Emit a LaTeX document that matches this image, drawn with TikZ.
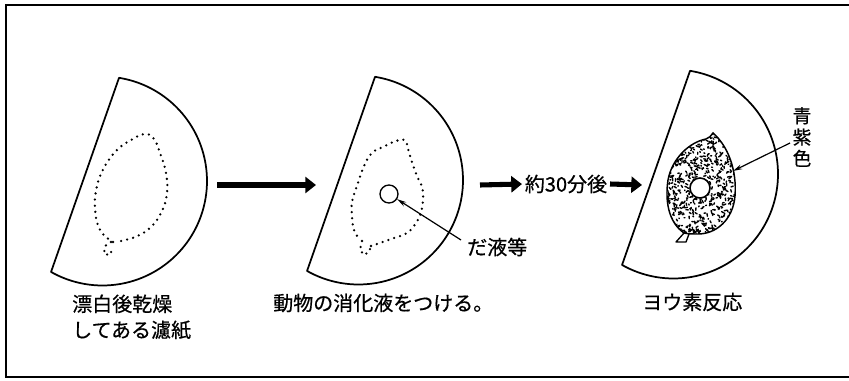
\documentclass[tikz,border=0pt]{standalone}
\usepackage{fontspec}
\setmainfont{Noto Sans CJK JP}[FakeBold=0.6]
\usetikzlibrary{arrows.meta}
\begin{document}
\begin{tikzpicture}[x=0.75pt,y=-0.75pt,
  frame/.style={line width=1.5pt},
  paper/.style={line width=1.3pt, line join=round},
  dotline/.style={line width=1.9pt, line cap=round, dash pattern=on 0pt off 4.6pt},
  bigarrow/.style={line width=3.8pt, -{Triangle[length=8pt,width=12pt]}},
  pointer/.style={line width=0.9pt, -{Stealth[length=7pt,width=3.6pt]}},
  label/.style={font=\fontsize{15pt}{19.5pt}\selectfont, inner sep=0pt},
  drop/.style={circle, draw, line width=1pt, fill=white, inner sep=0pt},
  speck/.style={line width=1.05pt, line cap=round}
]
\useasboundingbox (0,0) rectangle (849,381);

% open frame: top, left and bottom edges
\draw[frame] (849,5.5) -- (5.5,5.5) -- (5.5,377) -- (849,377);

% the folded filter paper: a circle cut by a chord
\newcommand\filterpaper{%
  \draw[paper] plot[domain=-80.9:119.5, samples=90]
    ({102.5+104.5*cos(\x)},{181+104.5*sin(\x)}) -- cycle;}

% ---- stage 1: bleached, dried filter paper
\filterpaper
\draw[dotline] plot[smooth, tension=0.7] coordinates {(113,242) (100,230) (95,208) (97,186)
  (105,166) (117,150) (131,140) (145,134) (154,139) (160,153) (166,173) (167,193)
  (162,211) (151,227) (135,237) (116,242)};
\draw[dotline] (111,242) -- (105,246) -- (104,254) -- (110,255) -- (113,247);
\node[label, anchor=west, align=left] (lab1) at (72,317) {漂白後乾燥\\してある濾紙};

% ---- stage 2: digestive juice applied
\begin{scope}[shift={(256,-1)}]
\filterpaper
\end{scope}
\draw[dotline] plot[smooth, tension=0.7] coordinates {(371,246) (380,243) (394,238)
  (407,233) (416,223) (421,212) (423,199) (422,187) (417,176) (412,162) (408,149)
  (405,140) (396,141) (383,147) (372,153) (364,166) (357,186) (352,202) (352,216)
  (354,230) (360,240)};
\draw[dotline] (362,241) -- (360,250) -- (364,255) -- (369,252) -- (371,246);
\node[drop, minimum size=13.5pt] (drop2) at (389,194) {};
\coordinate (tail2) at (461,240);
\draw[pointer] (tail2) -- (drop2);
\node[label, anchor=west] (lab2a) at (467,247) {だ液等};
\node[label, anchor=west] (lab2) at (273,303) {動物の消化液をつける。};

% ---- stage 3: iodine reaction
\begin{scope}[shift={(571,-7)}]
\filterpaper
\end{scope}
\newcommand\leafpath{(713,133) .. controls (728,146) and (737,170) .. (735,196)
  .. controls (733,220) and (716,234) .. (698,234)
  .. controls (693,234) and (688,234) .. (684,233)
  .. controls (668,222) and (665,200) .. (668,180)
  .. controls (672,158) and (690,142) .. (706,139)
  .. controls (709,138) and (711,136) .. (713,133) -- cycle}
\begin{scope}
  \clip \leafpath;
  \pgfmathsetseed{4242}
  \foreach \k in {1,...,900}{
    \pgfmathsetmacro\sx{662+78*rnd}
    \pgfmathsetmacro\sy{130+108*rnd}
    \pgfmathsetmacro\sa{360*rnd}
    \pgfmathsetmacro\sl{0.6+2.2*rnd}
    \draw[speck] (\sx,\sy) -- ++(\sa:\sl);
  }
\end{scope}
\draw[line width=1.1pt] \leafpath;
\draw[line width=1pt, line join=round] (684,233) -- (676,242) -- (686,242) -- (689,234);
\node[drop, minimum size=15pt, line width=1.2pt] (drop3) at (700,188) {};
\coordinate (leafedge) at (733,171);
\coordinate (tail3) at (790,143);
\draw[pointer] (tail3) -- (leafedge);
\node[font=\fontsize{14pt}{16pt}\selectfont, inner sep=0pt, align=center] (lab3a) at (802,137) {青\\紫\\色};
\node[label, anchor=west] (lab3) at (642,302) {ヨウ素反応};

% ---- process arrows
\coordinate (a1s) at (217,185);
\coordinate (a1e) at (316,185);
\draw[bigarrow] (a1s) -- (a1e);
\node[label] (wait) at (566,184) {約30分後};
\coordinate (a2s) at (480,185);
\coordinate (a3e) at (642,185);
\draw[bigarrow] (a2s) -- ([xshift=-2pt]wait.west);
\draw[bigarrow] ([xshift=2pt]wait.east) -- (a3e);
\end{tikzpicture}
\end{document}
